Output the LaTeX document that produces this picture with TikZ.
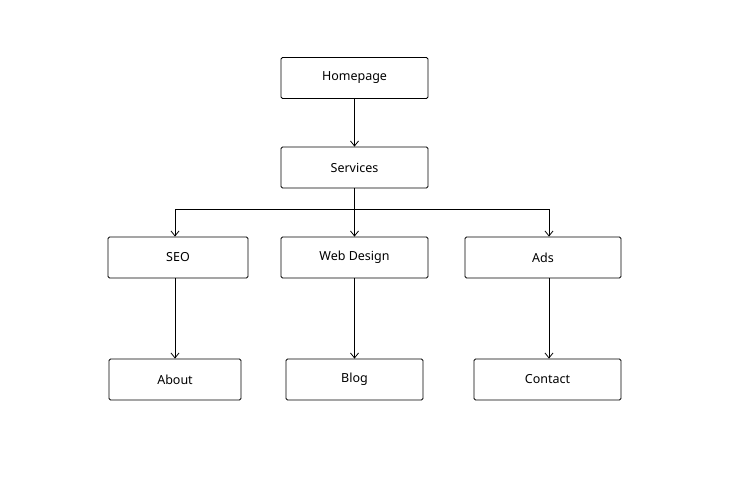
\documentclass[tikz,border=0pt]{standalone}
\usepackage{fontspec}
\setmainfont{Noto Sans}
\usetikzlibrary{arrows.meta}
\begin{document}
\begin{tikzpicture}[x=1pt,y=-1pt,
  box/.style={draw,rounded corners=1.5pt,line width=0.8pt,minimum height=41pt,inner sep=0pt,font=\fontsize{12.5}{15}\selectfont},
  arr/.style={-{Straight Barb[length=5pt,width=8pt]},line width=0.8pt}]
\useasboundingbox (0,0) rectangle (740,493);
\node[box,minimum width=147pt] (home) at (354.5,78) {Homepage};
\node[box,minimum width=147pt] (serv) at (354.5,167.5) {Services};
\node[box,minimum width=140pt] (seo) at (178,257.5) {SEO};
\node[box,minimum width=147pt] (web) at (354.5,257.5) {Web Design};
\node[box,minimum width=156pt] (ads) at (543,257.5) {Ads};
\node[box,minimum width=132pt] (about) at (175,379.5) {About};
\node[box,minimum width=137pt] (blog) at (354.5,379.5) {Blog};
\node[box,minimum width=147pt] (contact) at (547.5,379.5) {Contact};
\coordinate (b) at (354.5,209);
\coordinate (bl) at (175,209);
\coordinate (br) at (549,209);
\draw[arr] (home) -- (serv);
\draw[line width=0.8pt] (serv) -- (b);
\draw[line width=0.8pt] (bl) -- (br);
\draw[arr] (bl) -- (bl |- seo.north);
\draw[arr] (b) -- (web);
\draw[arr] (br) -- (br |- ads.north);
\draw[arr] (seo.south -| about) -- (about);
\draw[arr] (web) -- (blog);
\draw[arr] (ads.south -| br) -- (br |- contact.north);
\end{tikzpicture}
\end{document}
